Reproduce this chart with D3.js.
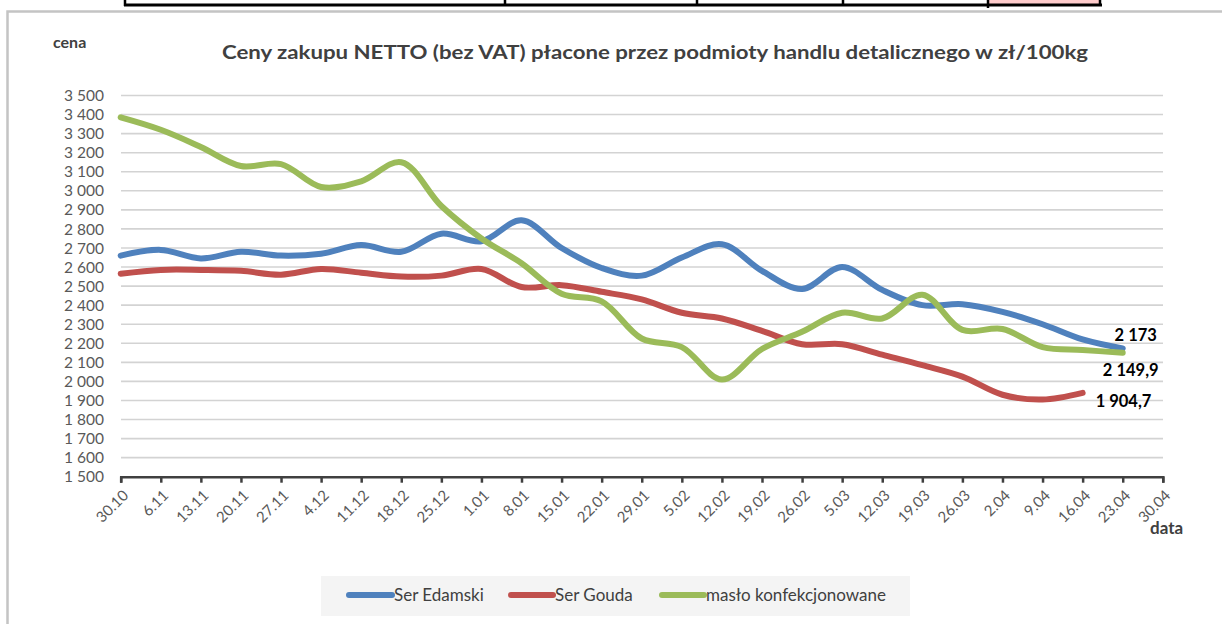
<!DOCTYPE html>
<html><head><meta charset="utf-8">
<script src="https://cdn.jsdelivr.net/npm/d3@7"></script>
<style>html,body{margin:0;padding:0;background:#fff;}svg{display:block;}</style>
</head><body>
<script>
const dates = ["30.10","6.11","13.11","20.11","27.11","4.12","11.12","18.12","25.12","1.01","8.01","15.01","22.01","29.01","5.02","12.02","19.02","26.02","5.03","12.03","19.03","26.03","2.04","9.04","16.04","23.04","30.04"];
const serEdamski = [2660,2690,2645,2680,2660,2670,2715,2680,2775,2735,2845,2700,2595,2555,2650,2720,2580,2485,2600,2480,2400,2405,2365,2300,2220,2173];
const serGouda = [2565,2585,2585,2580,2560,2590,2570,2550,2555,2590,2495,2505,2470,2430,2360,2330,2265,2195,2195,2140,2085,2025,1930,1905,1940];
const masloKonf = [3385,3320,3230,3130,3140,3020,3050,3150,2920,2750,2620,2460,2420,2225,2180,2010,2170,2260,2360,2330,2455,2270,2275,2180,2165,2149.9];
const seriesNames = ["Ser Edamski","Ser Gouda","masło konfekcjonowane"];
const endLabels = ["2 173","1 904,7","2 149,9"];
const yTicks = [1500,1600,1700,1800,1900,2000,2100,2200,2300,2400,2500,2600,2700,2800,2900,3000,3100,3200,3300,3400,3500];
const titleText = "Ceny zakupu NETTO (bez VAT) płacone przez podmioty  handlu detalicznego w zł/100kg";

const W = 1222, H = 624;
const colors = ["#4F81BD","#C0504D","#9BBB59"];
const svg = d3.select("body").append("svg").attr("width", W).attr("height", H);
const font = "Lato, 'Open Sans', sans-serif";

// top table fragment
const tbl = svg.append("g");
tbl.append("rect").attr("x", 989).attr("y", 0).attr("width", 111).attr("height", 5).attr("fill", "#FFCCCC");
tbl.append("line").attr("x1", 124).attr("x2", 1102).attr("y1", 5).attr("y2", 5).attr("stroke", "#000").attr("stroke-width", 3);
[125, 505, 697, 843, 988, 1100].forEach(x => {
  tbl.append("line").attr("x1", x).attr("x2", x).attr("y1", 0).attr("y2", x === 988 ? 8 : 6).attr("stroke", "#000").attr("stroke-width", 2.5);
});

// chart frame
svg.append("path").attr("d", `M7.5,${H+2} V11.5 H${W+2}`).attr("fill", "none").attr("stroke", "#c4c4c4").attr("stroke-width", 2.5);

const x = d3.scalePoint().domain(dates).range([120.7, 1162.8]).padding(0);
const y = d3.scaleLinear().domain([1500, 3500]).range([476.7, 95.5]);

// gridlines
svg.append("g").selectAll("line").data(yTicks.filter(t => t > 1500)).join("line")
  .attr("x1", 121).attr("x2", 1163)
  .attr("y1", d => y(d)).attr("y2", d => y(d))
  .attr("stroke", "#d3d3d3").attr("stroke-width", 1.6);

// y axis labels
const fmt = v => d3.format(",")(v).replace(/,/g, " ");
svg.append("g").selectAll("text").data(yTicks).join("text")
  .attr("x", 104).attr("y", d => y(d)).attr("dy", "0.36em")
  .attr("text-anchor", "end").attr("font-family", font).attr("font-size", 15.5)
  .attr("fill", "#595959").text(d => fmt(d));

// x axis
const xAxis = d3.axisBottom(x).tickSize(6).tickFormat("");
const gx = svg.append("g").attr("transform", `translate(0,${y(1500)})`).call(xAxis);
gx.select(".domain").attr("stroke", "#404040").attr("stroke-width", 2.5);
gx.selectAll(".tick line").attr("stroke", "#404040").attr("stroke-width", 2.5);
svg.append("g").selectAll("text").data(dates).join("text")
  .attr("transform", d => `translate(${x(d) + 5},${y(1500) + 16}) rotate(-45)`)
  .attr("text-anchor", "end").attr("dy", "0.35em")
  .attr("font-family", font).attr("font-size", 15).attr("fill", "#595959")
  .text(d => d);

// lines
const allSeries = [serEdamski, serGouda, masloKonf];
const line = d3.line().x((d, i) => x(dates[i])).y(d => y(d)).curve(d3.curveCatmullRom.alpha(0.5));
allSeries.forEach((s, k) => {
  svg.append("path").datum(s).attr("d", line).attr("fill", "none")
    .attr("stroke", colors[k]).attr("stroke-width", 6)
    .attr("stroke-linecap", "round").attr("stroke-linejoin", "round");
});

// end labels
const offs = [[13, -13, "middle"], [13, 8, "start"], [8, 17, "middle"]];
allSeries.forEach((s, k) => {
  const i = s.length - 1;
  svg.append("text").attr("x", x(dates[i]) + offs[k][0]).attr("y", y(s[i]) + offs[k][1])
    .attr("dy", "0.35em").attr("text-anchor", offs[k][2])
    .attr("font-family", font).attr("font-weight", "bold").attr("font-size", 16.5)
    .attr("fill", "#000").text(endLabels[k]);
});

// title & axis titles
svg.append("text").attr("x", 222).attr("y", 59).attr("font-family", font).attr("font-weight", "bold")
  .attr("font-size", 19).attr("fill", "#404040").attr("textLength", 866).attr("lengthAdjust", "spacingAndGlyphs")
  .text(titleText);
svg.append("text").attr("x", 53).attr("y", 48).attr("font-family", font).attr("font-weight", "bold")
  .attr("font-size", 16).attr("fill", "#404040").text("cena");
svg.append("text").attr("x", 1150).attr("y", 534).attr("font-family", font).attr("font-weight", "bold")
  .attr("font-size", 17).attr("fill", "#404040").text("data");

// legend
const lg = svg.append("g");
lg.append("rect").attr("x", 321).attr("y", 576).attr("width", 589).attr("height", 40).attr("fill", "#f4f4f4");
const legendItems = [{x0: 349, x1: 392, tx: 394}, {x0: 511, x1: 553, tx: 555}, {x0: 662, x1: 704, tx: 706}];
legendItems.forEach((it, k) => {
  lg.append("line").attr("x1", it.x0).attr("x2", it.x1).attr("y1", 595).attr("y2", 595)
    .attr("stroke", colors[k]).attr("stroke-width", 6).attr("stroke-linecap", "round");
  lg.append("text").attr("x", it.tx).attr("y", 595).attr("dy", "0.36em")
    .attr("font-family", font).attr("font-size", 17).attr("fill", "#404040").text(seriesNames[k]);
});
</script>
</body></html>
